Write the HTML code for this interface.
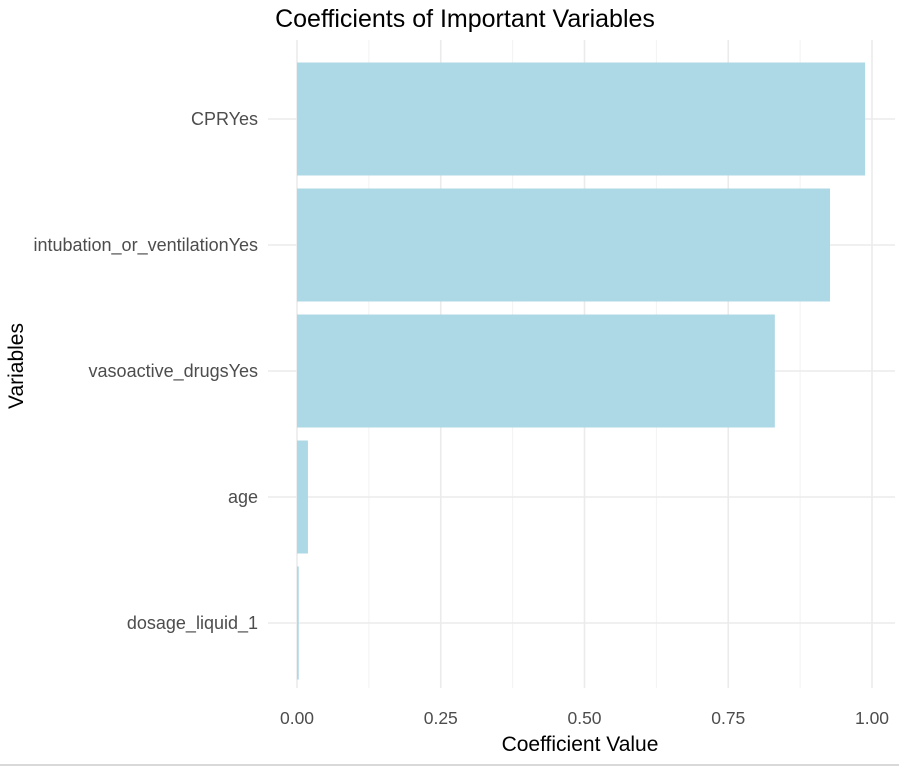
<!DOCTYPE html>
<html><head><meta charset="utf-8"><style>
body{margin:0;background:#fff;font-family:"Liberation Sans",sans-serif;}
#wrap{position:relative;width:899px;height:769px;overflow:hidden;}
</style></head><body>
<div id="wrap">
<svg id="svg" width="899" height="769" xmlns="http://www.w3.org/2000/svg"></svg>
</div>
<script>
const categories = ["CPRYes","intubation_or_ventilationYes","vasoactive_drugsYes","age","dosage_liquid_1"];
const values = [0.988, 0.927, 0.831, 0.019, 0.003];
const xTicks = [0, 0.25, 0.5, 0.75, 1.0];
const xTickLabels = ["0.00","0.25","0.50","0.75","1.00"];
const xMinor = [0.125, 0.375, 0.625, 0.875];

const NS = "http://www.w3.org/2000/svg";
const svg = document.getElementById('svg');
const panel = {left:268, right:895, top:40, bottom:688};
const x0 = 297, xUnit = 575;
function xScale(v){ return x0 + v * xUnit; }
const bandTop = 119, bandStep = 126, barH = 113;
function yScale(i){ return bandTop + i * bandStep; }

function mk(tag, attrs){ const e = document.createElementNS(NS, tag); for (const k in attrs) e.setAttribute(k, attrs[k]); svg.appendChild(e); return e; }

xMinor.forEach(v => {
  const l = mk('line', {x1:xScale(v), x2:xScale(v), y1:panel.top, y2:panel.bottom, stroke:'#f2f2f2', 'stroke-width':1});
  
  
});
xTicks.forEach(v => {
  const l = mk('line', {x1:xScale(v), x2:xScale(v), y1:panel.top, y2:panel.bottom, stroke:'#ebebeb', 'stroke-width':1.6});
  
  
});
categories.forEach((c, i) => {
  const l = mk('line', {x1:panel.left, x2:panel.right, y1:yScale(i), y2:yScale(i), stroke:'#ebebeb', 'stroke-width':1.6});
  
  
});
categories.forEach((c, i) => {
  const w = xScale(values[i]) - xScale(0);
  const r = mk('rect', {x:xScale(0), y:yScale(i) - barH/2, width:Math.max(w, 0.5), height:barH, fill:'#add8e6'});
  
  
  const t = mk('text', {x:258, y:yScale(i) + 6, 'text-anchor':'end', 'font-size':18, fill:'#4d4d4d'});
  t.textContent = c;
  
  
});
xTicks.forEach((v, i) => {
  const t = mk('text', {x:xScale(v), y:724, 'text-anchor':'middle', 'font-size':17.5, fill:'#4d4d4d'});
  t.textContent = xTickLabels[i];
  
  
});
const title = mk('text', {x:465, y:27, 'text-anchor':'middle', 'font-size':25, fill:'#000'});
title.textContent = 'Coefficients of Important Variables';


const xt = mk('text', {x:580, y:751, 'text-anchor':'middle', 'font-size':21, fill:'#000'});
xt.textContent = 'Coefficient Value';


const yt = mk('text', {x:0, y:0, 'text-anchor':'middle', 'font-size':21, fill:'#000', transform:'translate(23,366) rotate(-90)'});
yt.textContent = 'Variables';


const bl = mk('line', {x1:0, x2:899, y1:765, y2:765, stroke:'#d9d9d9', 'stroke-width':2});


</script>
</body></html>
